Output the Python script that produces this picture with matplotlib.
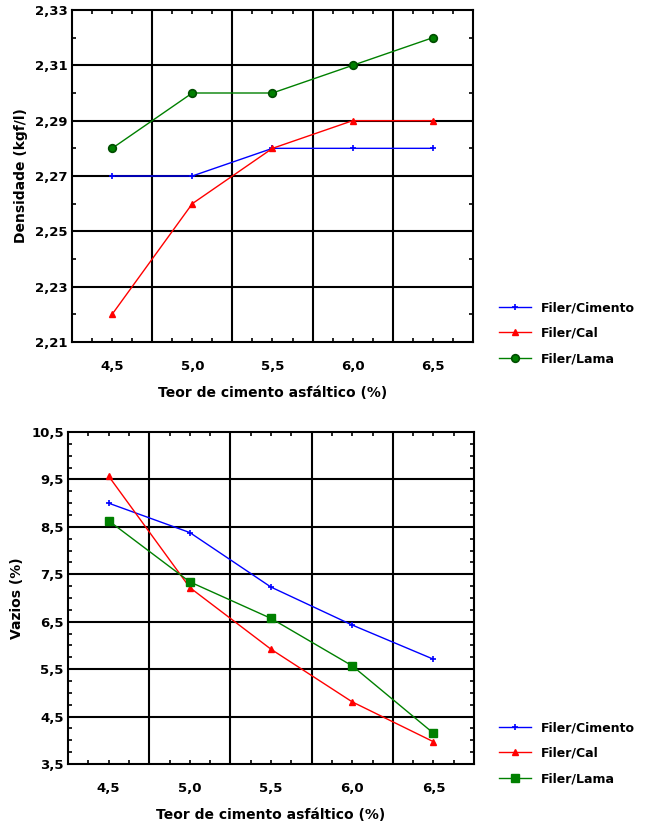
import matplotlib
matplotlib.use("Agg")
import matplotlib.pyplot as plt
import numpy as np

# ---- data ----
teor = [4.5, 5.0, 5.5, 6.0, 6.5]
x_labels = ["4,5", "5,0", "5,5", "6,0", "6,5"]

dens_cimento = [2.27, 2.27, 2.28, 2.28, 2.28]
dens_cal = [2.22, 2.26, 2.28, 2.29, 2.29]
dens_lama = [2.28, 2.30, 2.30, 2.31, 2.32]

vaz_cimento = [9.00, 8.38, 7.23, 6.43, 5.71]
vaz_cal = [9.57, 7.22, 5.92, 4.81, 3.97]
vaz_lama = [8.63, 7.34, 6.57, 5.57, 4.15]

dens_ticks = [2.21, 2.23, 2.25, 2.27, 2.29, 2.31, 2.33]
dens_labels = ["2,21", "2,23", "2,25", "2,27", "2,29", "2,31", "2,33"]
vaz_ticks = [3.5, 4.5, 5.5, 6.5, 7.5, 8.5, 9.5, 10.5]
vaz_labels = ["3,5", "4,5", "5,5", "6,5", "7,5", "8,5", "9,5", "10,5"]

series_names = ["Filer/Cimento", "Filer/Cal", "Filer/Lama"]
xlabel = "Teor de cimento asfáltico (%)"

plt.rcParams['font.family'] = ['DejaVu Sans']
plt.rcParams['font.weight'] = 'bold'

fig = plt.figure(figsize=(6.47, 8.30), dpi=100)

ax1 = fig.add_axes([72/647, 1-342/830, (473-72)/647, (342-10)/830])
ax2 = fig.add_axes([68/647, 1-764/830, (474-68)/647, (764-432)/830])

blue = '#0000ff'
red = '#ff0000'
green = '#008000'
dgreen = '#004d00'


def style(ax, yticks, ylabels, yminor, xlim, ylim, ylab, gridy):
    ax.set_xlim(*xlim)
    ax.set_ylim(*ylim)
    ax.set_xticks(teor)
    ax.set_xticklabels(x_labels, fontsize=9.5, fontweight='bold')
    xminor = [v for v in np.arange(4.25, 6.76, 0.125) if abs((v - 4.25) % 0.5) > 1e-6]
    ax.set_xticks(xminor, minor=True)
    ax.set_yticks(yticks)
    ax.set_yticklabels(ylabels, fontsize=9.5, fontweight='bold')
    ax.set_yticks(yminor, minor=True)
    ax.tick_params(which='both', direction='in', length=3, width=1.2,
                   top=True, right=True, color='black')
    ax.tick_params(axis='x', which='major', pad=13)
    ax.tick_params(axis='y', which='major', pad=3, length=0)
    for v in [4.75, 5.25, 5.75, 6.25]:
        ax.axvline(v, color='black', lw=1.5, zorder=1)
    for v in gridy:
        ax.axhline(v, color='black', lw=1.5, zorder=1)
    for s in ax.spines.values():
        s.set_linewidth(1.5)
    ax.set_xlabel(xlabel, fontsize=10, fontweight='bold', labelpad=9)
    ax.set_ylabel(ylab, fontsize=10, fontweight='bold', labelpad=5)


leg_kw = dict(frameon=False, handlelength=2.5, handletextpad=0.8,
              labelspacing=1.0, prop={'size': 9, 'weight': 'bold'})

# top chart
ax1.plot(teor, dens_cimento, color=blue, lw=1, marker='+', ms=5, mew=1.2,
         label=series_names[0], zorder=3)
ax1.plot(teor, dens_cal, color=red, lw=1, marker='^', ms=4,
         label=series_names[1], zorder=3)
ax1.plot(teor, dens_lama, color=green, lw=1, marker='o', ms=5.5, mfc=green,
         mec=dgreen, mew=1.2, label=series_names[2], zorder=3)
style(ax1, dens_ticks, dens_labels, np.round(np.arange(2.22, 2.33, 0.02), 3),
      (4.25, 6.75), (2.21, 2.33), "Densidade (kgf/l)",
      [2.23, 2.25, 2.27, 2.29, 2.31])
ax1.legend(loc='upper left', bbox_to_anchor=(488/647, 1-290/830),
           bbox_transform=fig.transFigure, **leg_kw)

# bottom chart
ax2.plot(teor, vaz_cimento, color=blue, lw=1, marker='+', ms=5, mew=1.2,
         label=series_names[0], zorder=3)
ax2.plot(teor, vaz_cal, color=red, lw=1, marker='^', ms=4,
         label=series_names[1], zorder=3)
ax2.plot(teor, vaz_lama, color=green, lw=1, marker='s', ms=6, mfc=green,
         mec=green, label=series_names[2], zorder=3)
style(ax2, vaz_ticks, vaz_labels, np.arange(3.75, 10.5, 0.25),
      (4.25, 6.75), (3.5, 10.5), "Vazios (%)",
      [4.5, 5.5, 6.5, 7.5, 8.5, 9.5])
ax2.legend(loc='upper left', bbox_to_anchor=(488/647, 1-710/830),
           bbox_transform=fig.transFigure, **leg_kw)

fig.savefig("out.png", dpi=100)
